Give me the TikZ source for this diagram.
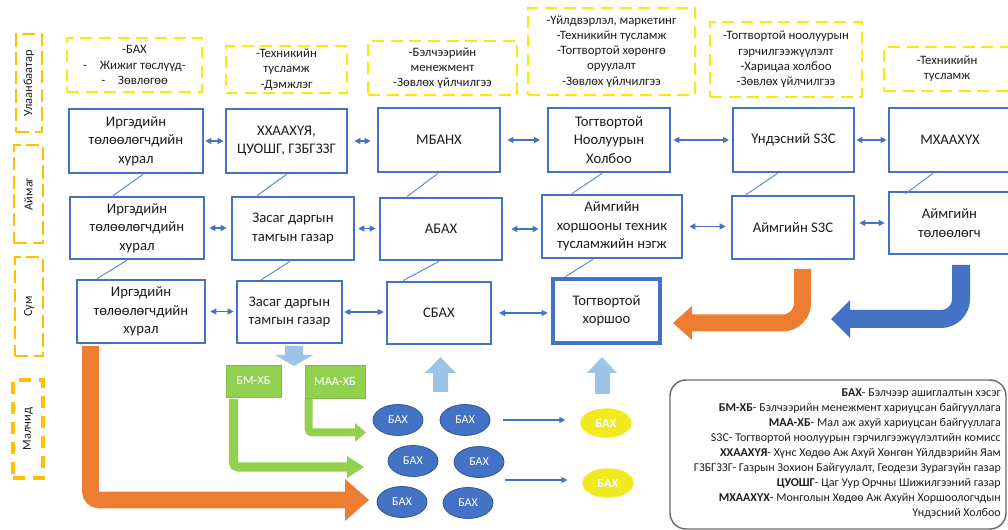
\documentclass[tikz,border=0pt]{standalone}
\usepackage{fontspec}
\setmainfont{Carlito}
\usepackage{graphicx}
\usetikzlibrary{arrows.meta,shapes.geometric,calc}
\definecolor{bblue}{RGB}{68,114,196}
\definecolor{lblue}{RGB}{91,140,214}
\definecolor{ylw}{RGB}{250,235,0}
\definecolor{gold}{RGB}{255,192,0}
\definecolor{orng}{RGB}{237,125,49}
\definecolor{grn}{RGB}{146,208,80}
\definecolor{sky}{RGB}{157,195,230}
\definecolor{yel2}{RGB}{240,234,30}
\definecolor{txt}{RGB}{30,30,30}
\newcommand\mkbox[7]{\node[#1,minimum width={(#4-#2)*0.75pt},minimum height={(#5-#3)*0.75pt}] (#6) at ({(#2+#4)/2},{(#3+#5)/2}) {#7};}
\begin{document}
\begin{tikzpicture}[x=0.75pt,y=-0.75pt,
  blk/.style={draw=bblue,line width=2pt,fill=white,align=center,inner sep=0pt,font=\fontsize{11}{13.8}\selectfont,text=txt},
  blkthick/.style={blk,line width=3.6pt},
  ydash/.style={draw=ylw,line width=2.2pt,dash pattern=on 9pt off 5pt,align=center,inner sep=0pt,font=\fontsize{9.6}{11.4}\selectfont,text=txt},
  side/.style={draw=gold,line width=1.5pt,dash pattern=on 10pt off 4pt,inner sep=0pt,font=\fontsize{9.3}{11}\selectfont,text=txt},
  sideB/.style={side,line width=2.6pt,dash pattern=on 9pt off 6pt},
  gbox/.style={fill=grn,draw=grn!90!black,line width=0.5pt,text=white,inner sep=0pt,font=\fontsize{9.3}{10}\selectfont},
  bell/.style={ellipse,fill=bblue,draw=bblue!75!black,line width=0.6pt,text=white,inner sep=0pt,font=\fontsize{9}{10}\selectfont,minimum width=37.5pt,minimum height=23.25pt},
  yell/.style={ellipse,fill=yel2,draw=none,text=white,inner sep=0pt,font=\fontsize{9.3}{10}\selectfont\bfseries,minimum width=38.5pt,minimum height=22pt},
  legbox/.style={draw=gray!85!black,line width=1.1pt,rounded corners=12pt,inner sep=0pt},
  link/.style={draw=lblue,line width=0.75pt},
  dar/.style={draw=bblue,line width=0.9pt,{Triangle[length=4.5pt,width=4.5pt]}-{Triangle[length=4.5pt,width=4.5pt]}},
  sar/.style={draw=bblue,line width=0.9pt,-{Triangle[length=4.5pt,width=4.5pt]}}
]
\useasboundingbox (0,0) rectangle (1008,530);

% side labels
\mkbox{side}{16}{34}{42}{132}{ub}{\rotatebox{90}{Улаанбаатар}}
\mkbox{side}{14}{145}{43}{243}{aim}{\rotatebox{90}{Аймаг}}
\mkbox{side}{15}{257}{43}{356}{sum}{\rotatebox{90}{Сум}}
\mkbox{sideB}{13}{380}{43}{478}{mal}{\rotatebox{90}{Малчид}}

% yellow dashed notes
\mkbox{ydash}{67}{38}{202}{92}{y1}{-БАХ\\-\hspace{1em}Жижиг төслүүд-\\-\hspace{1em}Зөвлөгөө}
\mkbox{ydash}{226}{46}{347}{93}{y2}{-Техникийн\\тусламж\\-Дэмжлэг}
\mkbox{ydash}{368}{41}{517}{95}{y3}{-Бэлчээрийн\\менежмент\\-Зөвлөх үйлчилгээ}
\mkbox{ydash}{528}{8}{695}{95}{y4}{-Үйлдвэрлэл, маркетинг\\-Техникийн тусламж\\-Тогтвортой хөрөнгө\\оруулалт\\-Зөвлөх үйлчилгээ}
\mkbox{ydash}{710}{22}{862}{97}{y5}{-Тогтвортой ноолуурын\\гэрчилгээжүүлэлт\\-Харицаа холбоо\\-Зөвлөх үйлчилгээ}
\mkbox{ydash}{884}{47}{1010}{91}{y6}{-Техникийн\\тусламж}

% row 1
\mkbox{blk}{69}{109}{203}{173}{A1}{Иргэдийн\\төлөөлөгчдийн\\хурал}
\mkbox{blk}{226}{109}{347}{173}{B1}{ХХААХҮЯ,\\ЦУОШГ, ГЗБГЗЗГ}
\mkbox{blk}{378}{108}{500}{172}{C1}{МБАНХ}
\mkbox{blk}{548}{108}{670}{172}{D1}{Тогтвортой\\Ноолуурын\\Холбоо}
\mkbox{blk}{733}{108}{854}{172}{E1}{Үндэсний S3C}
\mkbox{blk}{889}{108}{1011}{172}{F1}{МХААХҮХ}
% row 2
\mkbox{blk}{70}{197}{204}{259}{A2}{Иргэдийн\\төлөөлөгчдийн\\хурал}
\mkbox{blk}{232}{197}{354}{260}{B2}{Засаг даргын\\тамгын газар}
\mkbox{blk}{380}{198}{502}{260}{C2}{АБАХ}
\mkbox{blk}{542}{195}{682}{258}{D2}{Аймгийн\\хоршооны техник\\тусламжийн нэгж}
\mkbox{blk}{732}{196}{854}{259}{E2}{Аймгийн S3C}
\mkbox{blk}{889}{192}{1010}{254}{F2}{Аймгийн\\төлөөлөгч}
% row 3
\mkbox{blk}{77}{280}{205}{343}{A3}{Иргэдийн\\төлөөлөгчдийн\\хурал}
\mkbox{blk}{237}{281}{342}{343}{B3}{Засаг даргын\\тамгын газар}
\mkbox{blk}{387}{282}{491}{344}{C3}{СБАХ}
\mkbox{blkthick}{553}{279}{660}{343}{D3}{Тогтвортой\\хоршоо}

% vertical links
\draw[link] ($(A1.south)+(7,0)$) -- ($(A2.north)+(-24,0)$);
\draw[link] ($(B1.south)+(0,0)$) -- ($(B2.north)+(-36,0)$);
\draw[link] ($(C1.south)+(-1,0)$) -- ($(C2.north)+(-34,0)$);
\draw[link] ($(D1.south)+(-7,0)$) -- ($(D2.north)+(-40,0)$);
\draw[link] ($(E1.south)+(-16,0)$) -- ($(E2.north)+(-47,0)$);
\draw[link] ($(F1.south)+(-17,0)$) -- ($(F2.north)+(-44,3)$);
\draw[link] ($(A2.south)+(-10,0)$) -- ($(A3.north)+(-44,0)$);
\draw[link] ($(B2.south)+(-3,0)$) -- ($(B3.north)+(-28,0)$);
\draw[link] ($(C2.south)+(-2,0)$) -- ($(C3.north)+(-36,0)$);
\draw[link] ($(D2.south)+(-19,0)$) -- ($(D3.north)+(-41,0)$);

% horizontal double arrows
\draw[dar,shorten <=0.75pt,shorten >=0.75pt] (A1.east) -- (A1.east -| B1.west);
\draw[dar,shorten <=4.5pt,shorten >=4.5pt] (B1.east) -- (B1.east -| C1.west);
\draw[dar,shorten <=4.5pt,shorten >=5pt] (C1.east) -- (C1.east -| D1.west);
\draw[dar,shorten <=1.5pt,shorten >=2pt] (D1.east) -- (D1.east -| E1.west);
\draw[dar,shorten <=0.75pt,shorten >=0.75pt] (E1.east) -- (E1.east -| F1.west);
\draw[dar,shorten <=3pt,shorten >=3pt] (A2.east) -- (A2.east -| B2.west);
\draw[dar,shorten <=2.25pt,shorten >=2.25pt] (B2.east) -- (B2.east -| C2.west);
\draw[dar,shorten <=6pt,shorten >=1.5pt] (C2.east) -- (C2.east -| D2.west);
\draw[dar,shorten <=4.5pt,shorten >=3.75pt] (D2.east) -- (D2.east -| E2.west);
\draw[dar,shorten <=3pt,shorten >=2.25pt] (F2.west -| E2.east) -- (F2.west);
\draw[dar,shorten <=3pt,shorten >=1.5pt] (A3.east) -- (A3.east -| B3.west);
\draw[dar,shorten <=0.75pt,shorten >=1.5pt] (B3.east) -- (B3.east -| C3.west);
\draw[dar,shorten <=5pt,shorten >=2.25pt] (C3.east) -- (C3.east -| D3.west);

% green boxes
\mkbox{gbox}{226}{365}{281}{397}{bm}{БМ-ХБ}
\mkbox{gbox}{305}{365}{365}{398}{maa}{МАА-ХБ}

% light blue block arrows
\fill[sky] (285,346) -- (303,346) -- (303,355) -- (313,355) -- (294,366) -- (275,355) -- (285,355) -- cycle;
\fill[sky] (433,392) -- (448,392) -- (448,373) -- (456,373) -- (440.5,357) -- (425,373) -- (433,373) -- cycle;
\fill[sky] (595,394) -- (610,394) -- (610,373) -- (617,373) -- (602,357) -- (587,373) -- (595,373) -- cycle;

% pasture units
\node[bell] (b1) at (398,420) {БАХ};
\node[bell] (b2) at (465,420) {БАХ};
\node[bell] (b3) at (413,461) {БАХ};
\node[bell] (b4) at (479,462) {БАХ};
\node[bell] (b5) at (402,502) {БАХ};
\node[bell] (b6) at (468,503) {БАХ};
\node[yell] (yb1) at (606,423) {БАХ};
\node[yell] (yb2) at (608,483) {БАХ};
\coordinate (s2) at (505,480);
\draw[sar,shorten <=9.75pt,shorten >=11pt] (b2.east) -- (b2.east -| yb1.west);
\draw[sar,shorten >=11pt] (s2) -- (s2 -| yb2.west);

% thick L arrows
\draw[draw=orng,line width=12.4pt,rounded corners=6.2pt] (90.5,346) -- (90.5,500) -- (346,500);
\fill[orng] (345,479) -- (369,500) -- (345,521) -- cycle;
\draw[draw=grn,line width=7pt,rounded corners=3.5pt] (233.5,399) -- (233.5,467) -- (348,467);
\fill[grn] (347,456) -- (364,467) -- (347,478) -- cycle;
\draw[draw=grn,line width=6pt,rounded corners=3pt] (308.5,399) -- (308.5,432.5) -- (356,432.5);
\fill[grn] (355,423) -- (366,432.5) -- (355,442) -- cycle;

% U-turn arrows
\draw[draw=orng,line width=12.75pt,rounded corners=15pt] (802.5,269) -- (802.5,323) -- (691,323);
\fill[orng] (692,306) -- (673,323) -- (692,340) -- cycle;
\draw[draw=bblue,line width=13.5pt,rounded corners=15pt] (961,265) -- (961,319) -- (849,319);
\fill[bblue] (850,300) -- (831,319) -- (850,338) -- cycle;

% legend
\mkbox{legbox}{670}{380}{1006}{529}{leg}{}
\node[anchor=north east,align=right,inner sep=0pt,font=\fontsize{9}{11.3}\selectfont,text=txt] (legtxt) at (1001,388) {%
\textbf{БАХ}- Бэлчээр ашиглалтын хэсэг\\
\textbf{БМ-ХБ}- Бэлчээрийн менежмент хариуцсан байгууллага\\
\textbf{МАА-ХБ}- Мал аж ахуй хариуцсан байгууллага\\
S3C- Тогтвортой ноолуурын гэрчилгээжүүлэлтийн комисс\\
\textbf{ХХААХҮЯ}- Хүнс Хөдөө Аж Ахуй Хөнгөн Үйлдвэрийн Яам\\
ГЗБГЗЗГ- Газрын Зохион Байгуулалт, Геодези Зурагзүйн газар\\
\textbf{ЦУОШГ}- Цаг Уур Орчны Шижилгээний газар\\
\textbf{МХААХҮХ}- Монголын Хөдөө Аж Ахуйн Хоршоологчдын\\
Үндэсний Холбоо};
\end{tikzpicture}
\end{document}
